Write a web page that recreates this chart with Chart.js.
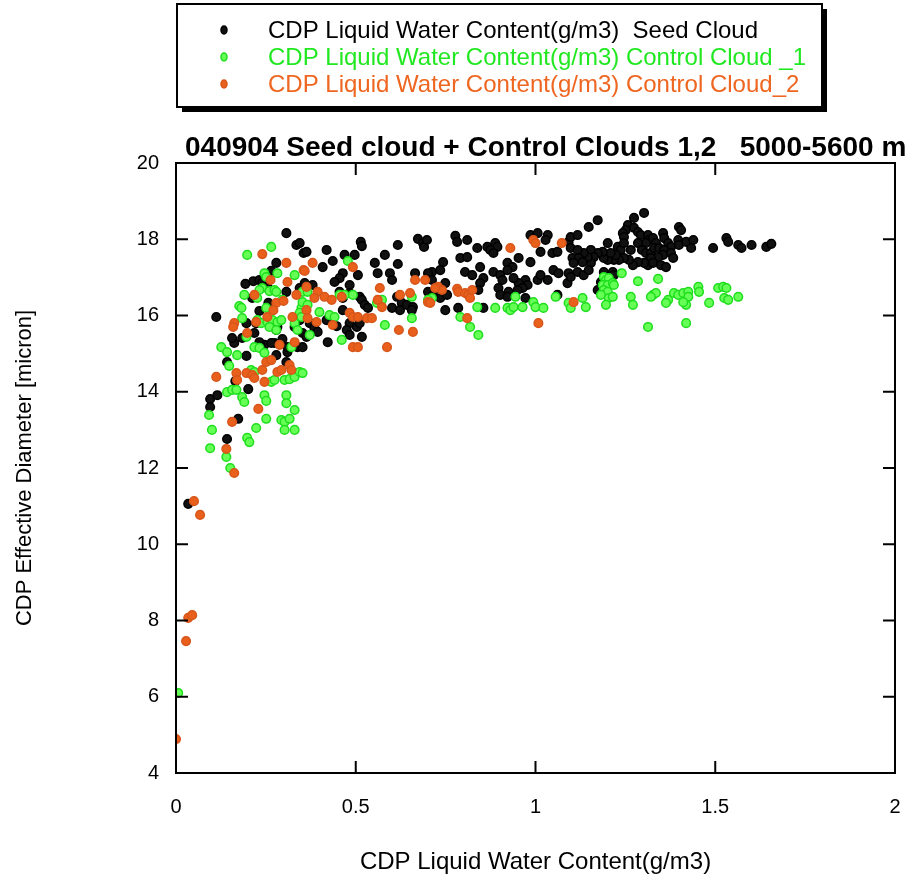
<!DOCTYPE html>
<html>
<head>
<meta charset="utf-8">
<script src="https://cdn.jsdelivr.net/npm/chart.js@4.4.1/dist/chart.umd.min.js"></script>
<style>
html, body { margin: 0; padding: 0; background: #fff; }
</style>
</head>
<body>
<canvas id="myChart" width="923" height="879"></canvas>
<script>
// series names and colours
const seriesNames = [
    "CDP Liquid Water Content(g/m3)  Seed Cloud",
    "CDP Liquid Water Content(g/m3) Control Cloud _1",
    "CDP Liquid Water Content(g/m3) Control Cloud_2",
];
const chartTitle = "040904 Seed cloud + Control Clouds 1,2   5000-5600 m";
const xTitle = "CDP Liquid Water Content(g/m3)";
const yTitle = "CDP Effective Diameter [micron]";

// [LWC g/m3, effective diameter micron]
const seedCloud = [
    [0.112,15.96],[0.095,13.81],[0.115,13.91],[0.095,13.60],[0.173,13.29],[0.142,12.76],[0.142,14.78],[0.165,14.28],[0.201,14.07],[0.034,11.06],
    [0.196,14.94],[0.162,15.28],[0.246,15.23],[0.274,15.28],[0.279,14.96],[0.307,14.78],[0.310,15.04],[0.307,18.16],[0.335,17.85],[0.355,17.64],
    [0.279,17.38],[0.265,17.17],[0.193,16.83],[0.215,16.90],[0.232,16.93],[0.240,16.85],[0.307,16.62],[0.344,16.72],[0.212,16.46],[0.257,16.33],
    [0.232,16.12],[0.196,15.80],[0.223,15.80],[0.279,15.62],[0.282,15.70],[0.156,15.41],[0.184,15.41],[0.218,15.54],[0.232,15.30],[0.237,15.17],
    [0.265,15.28],[0.296,15.38],[0.310,15.17],[0.338,15.17],[0.330,15.70],[0.344,15.88],[0.355,16.07],[0.254,16.75],[0.514,17.93],[0.517,17.82],
    [0.363,17.67],[0.419,17.72],[0.469,17.59],[0.497,17.59],[0.617,17.85],[0.673,18.01],[0.687,17.90],[0.690,17.80],[0.581,17.59],[0.553,17.38],
    [0.617,17.35],[0.436,17.43],[0.408,17.27],[0.464,17.11],[0.455,16.98],[0.441,16.88],[0.344,17.90],[0.358,16.85],[0.380,16.80],[0.561,17.11],
    [0.595,17.11],[0.601,16.93],[0.665,17.11],[0.483,16.80],[0.511,16.49],[0.517,16.41],[0.525,16.28],[0.534,16.20],[0.615,16.49],[0.628,16.33],
    [0.642,16.28],[0.659,16.22],[0.601,16.20],[0.623,16.14],[0.656,16.14],[0.701,16.62],[0.707,16.35],[0.464,16.14],[0.372,15.80],[0.385,15.67],
    [0.394,15.57],[0.419,15.88],[0.447,15.72],[0.483,15.80],[0.503,15.70],[0.511,15.80],[0.475,15.62],[0.483,15.49],[0.517,15.44],[0.352,15.54],
    [0.363,15.44],[0.422,15.30],[0.352,15.17],[0.483,16.59],[0.464,16.46],[0.455,16.62],[0.506,17.06],[0.777,18.09],[0.782,17.93],[0.810,17.98],
    [0.838,17.77],[0.866,17.80],[0.888,17.90],[0.894,17.80],[0.874,17.72],[0.883,17.64],[0.791,17.51],[0.810,17.53],[0.743,17.40],[0.698,17.98],
    [0.712,17.14],[0.735,17.19],[0.804,17.14],[0.824,17.06],[0.855,16.98],[0.846,17.27],[0.883,17.14],[0.902,17.06],[0.908,16.93],[0.922,17.38],
    [0.936,17.27],[0.922,17.19],[0.953,17.51],[0.986,17.40],[0.986,18.11],[1.006,18.16],[1.014,17.67],[1.034,18.11],[1.028,17.98],[1.047,17.64],
    [1.061,17.67],[1.092,17.93],[1.098,17.77],[1.103,17.51],[1.050,17.19],[1.064,17.11],[1.092,17.11],[1.089,16.85],[0.972,16.93],[0.978,16.80],
    [0.953,16.85],[0.964,16.72],[0.950,16.67],[0.939,16.98],[0.897,16.72],[0.925,16.62],[0.902,16.54],[0.922,16.49],[0.972,16.46],[1.006,16.93],
    [1.034,16.93],[1.014,17.06],[1.061,16.54],[0.701,17.11],[0.712,16.93],[0.726,16.72],[0.749,16.85],[0.735,16.46],[0.754,16.54],[0.715,16.54],
    [0.749,16.14],[0.846,16.85],[0.841,16.67],[0.785,16.20],[0.855,16.20],
    [1.302,18.69],[1.274,18.56],[1.173,18.50],[1.148,18.32],[1.257,18.37],[1.251,18.24],[1.274,18.30],[1.285,18.19],[1.243,18.16],[1.246,18.06],
    [1.293,18.11],[1.313,18.11],[1.316,17.98],[1.307,17.90],[1.285,17.90],[1.327,18.03],[1.335,17.90],[1.355,18.16],[1.358,18.03],[1.399,18.32],
    [1.405,18.24],[1.369,17.90],[1.377,17.80],[1.397,17.98],[1.399,17.85],[1.419,17.93],[1.439,17.98],[1.433,17.77],[1.098,18.06],[1.117,18.11],
    [1.201,17.90],[1.229,17.80],[1.237,17.72],[1.246,17.90],[1.265,17.72],[1.296,17.72],[1.307,17.64],[1.321,17.64],[1.330,17.77],[1.344,17.77],
    [1.358,17.72],[1.355,17.59],[1.341,17.53],[1.321,17.51],[1.313,17.32],[1.327,17.38],[1.302,17.38],[1.285,17.40],[1.271,17.32],[1.260,17.46],
    [1.246,17.51],[1.232,17.46],[1.218,17.46],[1.201,17.46],[1.190,17.51],[1.223,17.59],[1.209,17.64],[1.187,17.67],[1.173,17.64],[1.154,17.72],
    [1.162,17.53],[1.154,17.38],[1.145,17.53],[1.134,17.64],[1.117,17.72],[1.120,17.51],[1.106,17.38],[1.117,17.14],[1.098,17.01],[1.134,17.06],
    [1.148,17.19],[1.131,17.40],[1.190,17.14],[1.215,17.14],[1.218,17.06],[1.173,16.67],[1.182,16.88],[1.377,17.64],[1.383,17.51],[1.349,17.32],
    [1.363,17.27],[1.494,17.77],[1.531,18.03],[1.536,17.93],[1.564,17.85],[1.573,17.77],[1.601,17.85],[1.642,17.80],[1.656,17.88],
];

const controlCloud1 = [
    [1.240,17.11],[1.190,17.01],[1.196,16.93],[1.204,16.98],[1.187,16.80],[1.201,16.80],[1.215,16.85],[1.190,16.67],[1.201,16.62],[1.218,16.80],
    [1.182,16.54],[1.204,16.46],[1.215,16.49],[1.196,16.28],[1.285,16.90],[1.341,16.96],[1.131,16.46],[1.140,16.22],[1.265,16.49],[1.271,16.28],
    [1.327,16.54],[1.335,16.59],[1.321,16.49],[1.369,16.41],[1.363,16.33],[1.385,16.59],[1.397,16.54],[1.411,16.59],[1.425,16.62],[1.425,16.49],
    [1.419,16.28],[1.411,16.35],[1.453,16.75],[1.455,16.62],[1.483,16.33],[1.508,16.72],[1.522,16.75],[1.531,16.72],[1.525,16.46],[1.536,16.41],
    [1.564,16.49],[1.313,15.70],[1.419,15.80],[0.944,16.49],[0.994,16.35],[1.000,16.22],[1.022,16.20],[0.922,16.20],[0.930,16.14],[0.939,16.22],
    [0.964,16.22],[0.888,16.20],[0.838,16.22],[1.056,16.49],[1.092,16.33],[1.098,16.20],[0.791,15.96],[0.818,15.70],[0.841,15.49],[0.712,16.46],
    [0.478,17.43],[0.455,16.54],[0.469,16.54],[0.492,16.54],[0.559,16.33],[0.573,16.41],[0.349,16.20],[0.352,16.35],[0.366,16.28],[0.656,16.49],
    [0.701,16.41],[0.399,16.09],[0.427,16.01],[0.441,15.96],[0.656,15.93],[0.581,15.75],[0.372,15.49],[0.461,15.36],[0.352,16.62],[0.366,16.62],
    [0.344,16.07],[0.198,17.59],[0.265,17.80],[0.246,17.11],[0.251,17.01],[0.282,17.11],[0.330,17.06],[0.240,16.72],[0.232,16.67],[0.190,16.54],
    [0.260,16.64],[0.274,16.67],[0.279,16.62],[0.226,16.46],[0.176,16.25],[0.182,16.20],[0.251,16.20],[0.296,16.41],[0.184,15.93],[0.226,15.88],
    [0.237,15.80],[0.254,15.83],[0.268,15.88],[0.282,15.83],[0.293,15.88],[0.260,15.70],[0.279,15.62],[0.196,15.44],[0.330,15.80],[0.338,15.62],
    [0.349,15.96],[0.126,15.17],[0.142,15.04],[0.170,14.96],[0.148,14.68],[0.218,15.17],[0.232,15.15],[0.246,15.02],[0.321,15.17],[0.209,14.57],
    [0.218,14.52],[0.265,14.26],[0.274,14.31],[0.302,14.31],[0.316,14.33],[0.330,14.39],[0.344,14.52],[0.352,14.49],[0.142,13.99],[0.156,14.05],
    [0.168,14.05],[0.184,13.86],[0.190,13.73],[0.246,13.91],[0.251,13.76],[0.307,13.91],[0.307,13.70],[0.330,13.52],[0.092,13.39],[0.251,13.29],
    [0.293,13.26],[0.302,13.21],[0.316,13.29],[0.302,13.00],[0.330,13.00],[0.223,13.05],[0.100,13.00],[0.198,12.79],[0.204,12.68],[0.095,12.52],
    [0.140,12.29],[0.151,12.00],[0.006,6.10],
];

const controlCloud2 = [
    [0.240,17.61],[0.307,17.38],[0.263,16.93],[0.310,16.88],[0.355,17.19],[0.218,16.54],[0.335,16.54],[0.279,16.33],[0.271,16.14],[0.162,15.80],
    [0.159,15.70],[0.254,15.96],[0.299,16.38],[0.223,15.83],[0.324,15.96],[0.198,15.54],[0.288,15.23],[0.330,15.30],[0.380,17.38],[0.358,17.17],
    [0.492,17.27],[0.363,16.75],[0.363,16.14],[0.394,16.62],[0.385,16.46],[0.413,16.49],[0.433,16.41],[0.461,16.49],[0.567,16.72],[0.665,16.93],
    [0.693,16.93],[0.651,16.59],[0.623,16.54],[0.561,16.41],[0.573,16.22],[0.483,16.07],[0.492,15.96],[0.506,15.96],[0.531,15.93],[0.391,15.83],
    [0.436,15.75],[0.545,15.93],[0.620,15.62],[0.659,15.57],[0.492,15.17],[0.506,15.17],[0.587,15.17],[0.366,15.93],[0.112,14.39],[0.168,14.49],
    [0.170,14.31],[0.196,14.49],[0.212,14.44],[0.218,14.36],[0.240,14.57],[0.246,14.26],[0.251,14.78],[0.265,14.83],[0.282,14.52],[0.293,14.57],
    [0.316,14.70],[0.321,14.57],[0.229,13.55],[0.156,13.21],[0.140,12.50],[0.162,11.87],[0.930,17.77],[0.994,17.98],[1.000,17.90],[1.073,17.90],
    [0.729,16.75],[0.740,16.67],[0.721,16.72],[0.782,16.70],[0.785,16.62],[0.804,16.59],[0.813,16.54],[0.824,16.67],[0.818,16.46],[0.701,16.35],
    [0.707,16.33],[0.810,15.93],[1.008,15.80],[1.106,16.35],[0.050,11.13],[0.067,10.77],[0.034,8.07],[0.045,8.14],[0.028,7.46],[0.000,4.89],
];

const textColors = ["#000000", "#22e822", "#ee6620"];
const fillColors = ["#111111", "#66ff55", "#e8601c"];
const edgeColors = ["#000000", "#1ede1e", "#d8561a"];

const toPoints = arr => arr.map(p => ({ x: p[0], y: p[1] }));

const FONT = '"Liberation Sans", Arial, sans-serif';

// frame with inward ticks on all four sides
const frame = {
    id: 'frame',
    afterDatasetsDraw(chart) {
        const { ctx, chartArea: a, scales: { x, y } } = chart;
        ctx.save();
        ctx.strokeStyle = '#000';
        ctx.lineWidth = 2;
        ctx.strokeRect(a.left, a.top, a.right - a.left, a.bottom - a.top);
        ctx.beginPath();
        x.ticks.forEach(t => {
            const px = x.getPixelForValue(t.value);
            ctx.moveTo(px, a.bottom);
            ctx.lineTo(px, a.bottom - 12);
            ctx.moveTo(px, a.top);
            ctx.lineTo(px, a.top + 12);
        });
        y.ticks.forEach(t => {
            const py = y.getPixelForValue(t.value);
            ctx.moveTo(a.left, py);
            ctx.lineTo(a.left + 12, py);
            ctx.moveTo(a.right, py);
            ctx.lineTo(a.right - 12, py);
        });
        ctx.stroke();
        ctx.restore();
    }
};

// boxed legend with drop shadow, and the left-set bold title
const legendBox = {
    id: 'legendBox',
    afterDraw(chart) {
        const ctx = chart.ctx;
        ctx.save();
        ctx.fillStyle = '#000';
        ctx.fillRect(182, 9, 645, 103);
        ctx.fillStyle = '#fff';
        ctx.fillRect(177, 4, 645, 103);
        ctx.lineWidth = 2;
        ctx.strokeStyle = '#000';
        ctx.strokeRect(177, 4, 645, 103);

        ctx.font = '24px ' + FONT;
        ctx.textBaseline = 'middle';
        seriesNames.forEach((name, i) => {
            const yy = 31 + i * 27;
            ctx.beginPath();
            ctx.ellipse(224, yy - 1, 3, 4, 0, 0, Math.PI * 2);
            ctx.fillStyle = fillColors[i];
            ctx.fill();
            ctx.lineWidth = 1.5;
            ctx.strokeStyle = edgeColors[i];
            ctx.stroke();
            ctx.fillStyle = textColors[i];
            ctx.fillText(name, 268, yy);
        });

        ctx.font = 'bold 28px ' + FONT;
        ctx.fillStyle = '#000';
        ctx.textBaseline = 'alphabetic';
        ctx.fillText(chartTitle, 185, 156);
        ctx.restore();
    }
};

Chart.defaults.font.family = FONT;
Chart.defaults.color = '#000';

const chart = new Chart(document.getElementById('myChart').getContext('2d'), {
    type: 'scatter',
    data: {
        datasets: [seedCloud, controlCloud1, controlCloud2].map((arr, i) => ({
            label: seriesNames[i],
            data: toPoints(arr),
            backgroundColor: fillColors[i],
            borderColor: edgeColors[i],
            borderWidth: 1.5,
            pointRadius: 4.3,
            order: 2 - i,
        })),
    },
    options: {
        responsive: false,
        animation: false,
        layout: { padding: { top: 163, right: 28, left: 0, bottom: 0 } },
        plugins: {
            legend: { display: false },
            tooltip: { enabled: false },
            title: { display: false },
        },
        scales: {
            x: {
                type: 'linear',
                min: 0,
                max: 2,
                ticks: { stepSize: 0.5, padding: 22, font: { size: 20 }, callback: v => String(v) },
                grid: { display: false, drawTicks: false },
                border: { display: false },
                title: { display: true, text: xTitle, font: { size: 24 }, padding: { top: 0, bottom: 2 } },
                afterFit(s) { s.height = 106; s.paddingLeft = 0; s.paddingRight = 0; },
            },
            y: {
                min: 4,
                max: 20,
                ticks: { stepSize: 2, padding: 17, font: { size: 20 } },
                grid: { display: false, drawTicks: false },
                border: { display: false },
                title: { display: true, text: yTitle, font: { size: 22 }, padding: { top: 12, bottom: 0 } },
                afterFit(s) { s.width = 176; s.paddingTop = 0; s.paddingBottom = 0; },
            },
        },
    },
    plugins: [frame, legendBox],
});
</script>
</body>
</html>
